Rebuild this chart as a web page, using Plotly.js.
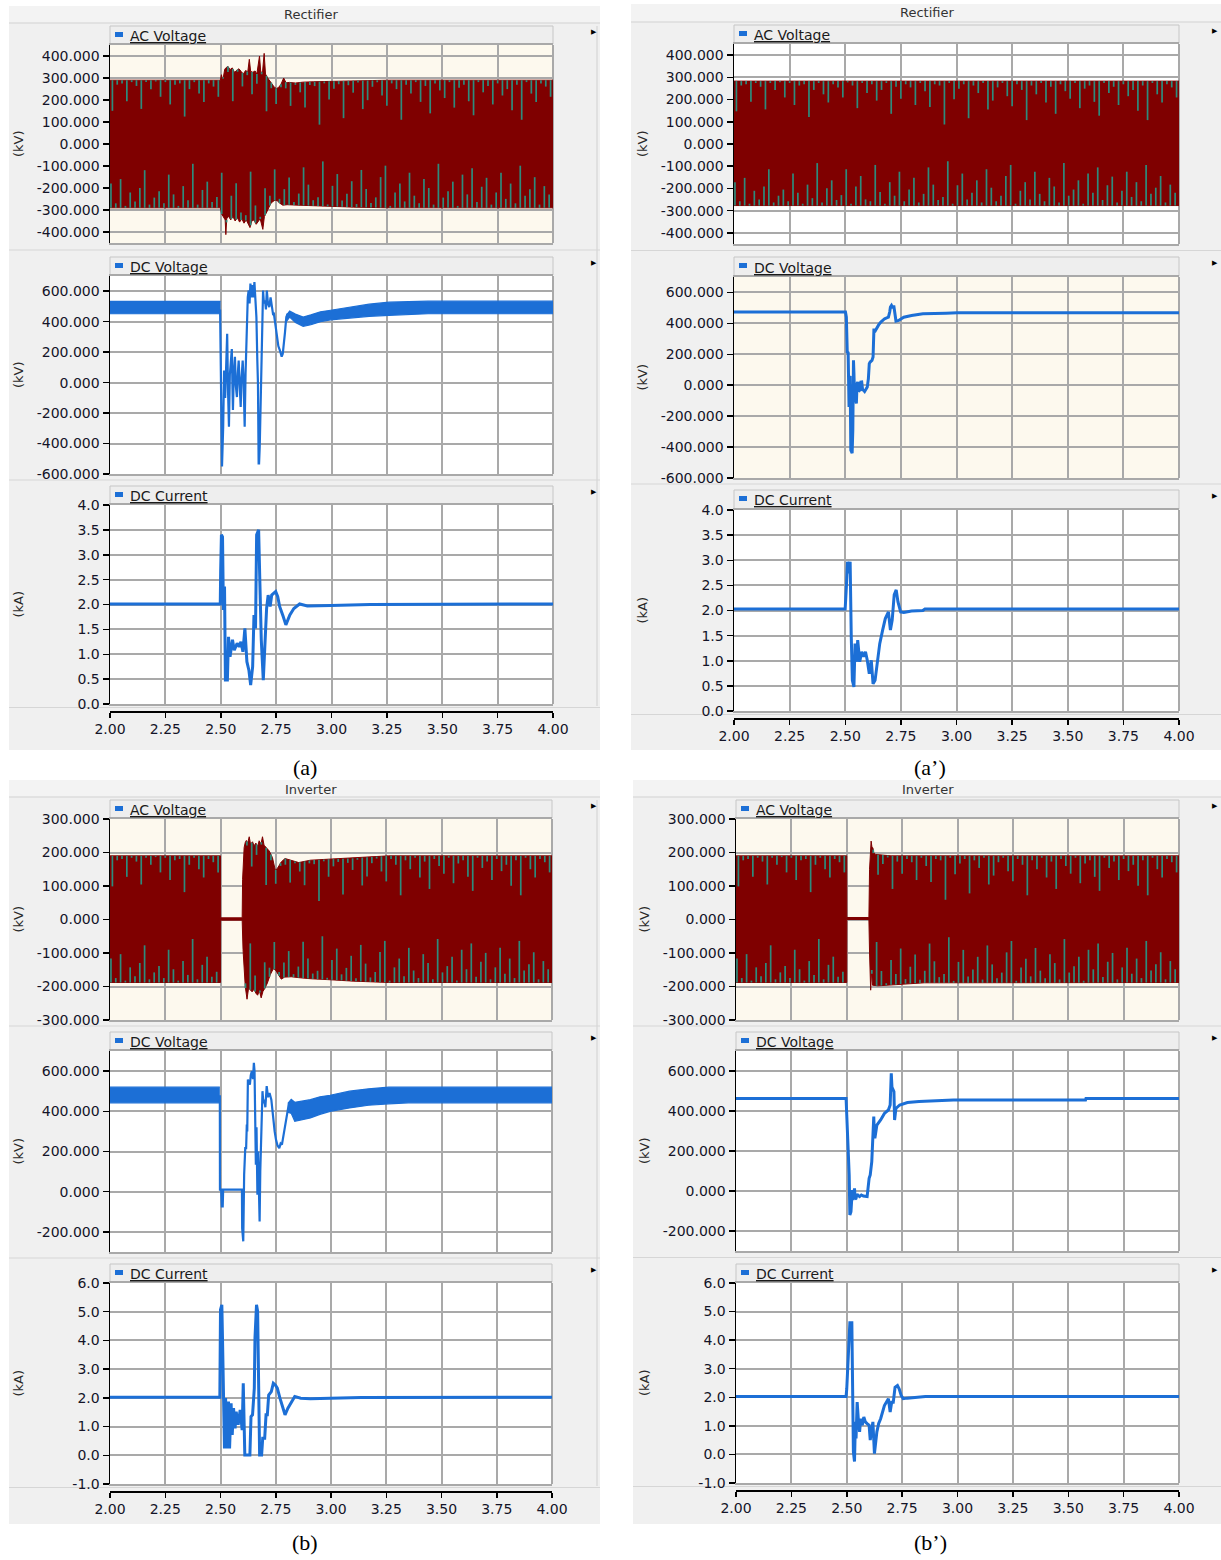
<!DOCTYPE html>
<html>
<head>
<meta charset="utf-8">
<script src="https://cdn.plot.ly/plotly-3.0.1.min.js"></script>
<style>
  html, body { margin: 0; padding: 0; background: #ffffff; }
  #chart { width: 1221px; height: 1560px; }
</style>
</head>
<body>
<div id="chart"></div>
<script>
// ---------------- time axis and tick labels ----------------
const timeTicks = [2.00, 2.25, 2.50, 2.75, 3.00, 3.25, 3.50, 3.75, 4.00];
const acTicksRect = [-400, -300, -200, -100, 0, 100, 200, 300, 400];
const acTicksInv = [-300, -200, -100, 0, 100, 200, 300];
const dcvTicksRect = [-600, -400, -200, 0, 200, 400, 600];
const dcvTicksInv = [-200, 0, 200, 400, 600];
const dciTicksRect = [0, 0.5, 1.0, 1.5, 2.0, 2.5, 3.0, 3.5, 4.0];
const dciTicksInv = [-1, 0, 1, 2, 3, 4, 5, 6];

// ---------------- AC voltage envelopes (kV) ----------------
// (a) rectifier, original control
const acA_upT = [2.0, 2.498, 2.503, 2.507, 2.512, 2.518, 2.525, 2.533, 2.542, 2.552, 2.562, 2.572, 2.582, 2.592, 2.602, 2.612, 2.622, 2.629, 2.635, 2.645, 2.655, 2.663, 2.670, 2.675, 2.681, 2.689, 2.696, 2.702, 2.712, 2.722, 2.732, 2.742, 2.752, 2.762, 2.772, 2.784, 2.795, 2.810, 2.837, 2.870, 2.920, 3.000, 3.100, 3.260, 4.0];
const acA_up = [290, 290, 315, 298, 305, 340, 348, 352, 338, 346, 326, 336, 342, 330, 318, 334, 328, 385, 330, 326, 332, 318, 372, 400, 322, 332, 412, 318, 300, 285, 275, 258, 252, 258, 272, 300, 278, 280, 277, 281, 283, 285, 288, 290, 290];
const acA_loT = [2.0, 2.498, 2.504, 2.512, 2.520, 2.523, 2.527, 2.535, 2.545, 2.555, 2.565, 2.575, 2.585, 2.595, 2.605, 2.615, 2.625, 2.632, 2.640, 2.650, 2.660, 2.670, 2.678, 2.690, 2.697, 2.705, 2.715, 2.725, 2.735, 2.745, 2.755, 2.765, 2.780, 2.800, 2.850, 2.950, 3.100, 3.260, 4.0];
const acA_lo = [-290, -290, -318, -330, -345, -412, -340, -328, -345, -330, -350, -335, -355, -340, -360, -345, -370, -380, -350, -345, -365, -350, -340, -388, -330, -315, -295, -272, -262, -255, -258, -268, -278, -276, -278, -282, -287, -290, -290];
// (a') rectifier, improved control
const acA2_upT = [2.0, 4.0];
const acA2_up = [283, 283];
const acA2_loT = [2.0, 4.0];
const acA2_lo = [-277, -277];
// (b) inverter, original control
const acB_upT = [2.0, 2.500, 2.5005, 2.598, 2.600, 2.607, 2.612, 2.617, 2.623, 2.630, 2.636, 2.645, 2.652, 2.660, 2.668, 2.675, 2.683, 2.690, 2.697, 2.705, 2.720, 2.735, 2.748, 2.757, 2.775, 2.792, 2.819, 2.854, 2.907, 2.996, 3.084, 3.190, 3.260, 4.0];
const acB_up = [190, 190, 5, 5, 120, 215, 230, 236, 228, 247, 225, 232, 220, 228, 218, 235, 225, 247, 222, 215, 205, 185, 147, 152, 172, 182, 177, 170, 177, 180, 182, 187, 190, 190];
const acB_loT = [2.0, 2.500, 2.5005, 2.598, 2.602, 2.607, 2.612, 2.620, 2.627, 2.635, 2.643, 2.652, 2.660, 2.668, 2.676, 2.684, 2.692, 2.700, 2.712, 2.725, 2.739, 2.750, 2.760, 2.775, 2.790, 2.820, 2.860, 2.910, 3.000, 3.100, 3.260, 4.0];
const acB_lo = [-188, -188, -2, -2, -90, -166, -200, -238, -205, -210, -216, -208, -220, -226, -212, -234, -215, -206, -190, -165, -147, -152, -163, -178, -172, -171, -174, -177, -180, -184, -188, -188];
// (b') inverter, improved control
const acB2_upT = [2.0, 2.500, 2.5005, 2.600, 2.603, 2.610, 2.614, 2.618, 2.622, 2.630, 2.650, 2.700, 4.0];
const acB2_up = [190, 190, 6, 6, 150, 234, 215, 214, 200, 194, 193, 190, 190];
const acB2_loT = [2.0, 2.500, 2.5005, 2.600, 2.603, 2.608, 2.612, 2.616, 2.640, 2.680, 2.720, 2.770, 2.850, 4.0];
const acB2_lo = [-188, -188, 0, 0, -100, -211, -150, -196, -198, -196, -194, -191, -189, -188];

// notch depth of the inner phase traces, as a share of the envelope
const notchTop = [0.48, 0.07, 0.05, 0.33, 0.03, 0.09, 0.45, 0.03, 0.14, 0.02, 0.26, 0.03, 0.38, 0.07, 0.05, 0.57, 0.14, 0.03, 0.21, 0.34, 0.05, 0.10, 0.26, 0.02, 0.07, 0.43, 0.03, 0.19, 0.05, 0.31, 0.14, 0.03, 0.52, 0.09, 0.28, 0.05, 0.10, 0.38, 0.03, 0.16, 0.41, 0.05, 0.07, 0.69, 0.03, 0.29, 0.12, 0.05, 0.59, 0.07, 0.19, 0.03, 0.45, 0.31, 0.10, 0.03, 0.24, 0.40, 0.05, 0.14, 0.62, 0.07, 0.21, 0.03, 0.34, 0.09, 0.52, 0.05, 0.16, 0.28, 0.03, 0.43, 0.12, 0.07, 0.33, 0.55, 0.03, 0.19, 0.09, 0.38, 0.05, 0.24, 0.14, 0.47, 0.07, 0.62, 0.03, 0.21, 0.34, 0.05, 0.10, 0.26];
const notchBot = [0.38, 0.07, 0.45, 0.03, 0.24, 0.10, 0.31, 0.59, 0.05, 0.16, 0.26, 0.07, 0.52, 0.21, 0.03, 0.34, 0.12, 0.69, 0.05, 0.28, 0.41, 0.09, 0.17, 0.59, 0.03, 0.31, 0.48, 0.10, 0.07, 0.66, 0.22, 0.03, 0.38, 0.16, 0.55, 0.07, 0.26, 0.45, 0.05, 0.19, 0.62, 0.34, 0.09, 0.14, 0.72, 0.03, 0.33, 0.52, 0.10, 0.21, 0.41, 0.05, 0.59, 0.29, 0.07, 0.16, 0.48, 0.66, 0.03, 0.24, 0.38, 0.10, 0.55, 0.19, 0.07, 0.45, 0.31, 0.05, 0.69, 0.16, 0.26, 0.41, 0.03, 0.52, 0.21, 0.62, 0.09, 0.33, 0.47, 0.05, 0.24, 0.55, 0.14, 0.38, 0.07, 0.66, 0.19, 0.29, 0.48, 0.05, 0.34, 0.21];

// ---------------- DC voltage (kV) ----------------
// ripple band before and after the fault, transient trace in between
const dcvA_preT = [2.0, 2.499];
const dcvA_preHi = [533, 533];
const dcvA_preLo = [452, 452];
const dcvA_postT = [2.796, 2.811, 2.837, 2.872, 2.907, 2.950, 2.996, 3.084, 3.170, 3.260, 3.350, 3.436, 4.0];
const dcvA_postHi = [440, 470, 450, 430, 445, 465, 475, 495, 515, 528, 532, 535, 535];
const dcvA_postLo = [400, 430, 395, 370, 380, 400, 412, 425, 435, 442, 448, 452, 452];
const dcvA_t = [2.497, 2.4987, 2.5057, 2.511, 2.515, 2.520, 2.524, 2.529, 2.533, 2.537, 2.541, 2.545, 2.550, 2.553, 2.555, 2.559, 2.564, 2.568, 2.573, 2.577, 2.581, 2.585, 2.590, 2.594, 2.599, 2.603, 2.608, 2.612, 2.617, 2.622, 2.626, 2.630, 2.634, 2.640, 2.644, 2.647, 2.652, 2.656, 2.661, 2.665, 2.668, 2.671, 2.673, 2.676, 2.679, 2.684, 2.688, 2.691, 2.695, 2.700, 2.704, 2.708, 2.713, 2.719, 2.725, 2.731, 2.736, 2.740, 2.746, 2.752, 2.760, 2.767, 2.775, 2.780, 2.784, 2.790, 2.796, 2.803];
const dcvA_v = [480, 320, -550, -290, 80, -100, 200, 320, -60, -290, 50, 150, 220, -40, -180, 60, 170, -20, -95, 60, 145, 0, -160, 30, 145, 20, -290, 60, 430, 560, 605, 520, 650, 560, 640, 560, 660, 540, 430, 150, -5, -530, -530, -420, -200, 255, 450, 605, 520, 540, 480, 605, 520, 495, 560, 500, 450, 452, 380, 300, 240, 212, 170, 190, 235, 330, 430, 455];
const dcvA2_t = [2.0, 2.501, 2.505, 2.509, 2.513, 2.517, 2.520, 2.522, 2.525, 2.531, 2.534, 2.537, 2.539, 2.541, 2.544, 2.547, 2.550, 2.553, 2.556, 2.560, 2.565, 2.570, 2.574, 2.578, 2.582, 2.587, 2.591, 2.595, 2.599, 2.604, 2.608, 2.612, 2.620, 2.625, 2.629, 2.632, 2.637, 2.643, 2.650, 2.660, 2.670, 2.677, 2.686, 2.694, 2.700, 2.703, 2.708, 2.714, 2.718, 2.722, 2.725, 2.728, 2.740, 2.750, 2.763, 2.798, 2.849, 2.953, 3.004, 4.0];
const dcvA2_v = [473, 473, 440, 215, 210, -140, 54, 60, -420, -440, -290, 161, 80, -32, -75, -110, -118, 10, 21, -40, -32, 20, 21, -30, -32, -40, -32, -20, -11, 43, 140, 150, 160, 183, 366, 345, 360, 376, 390, 408, 425, 430, 435, 440, 475, 505, 516, 500, 516, 470, 451, 415, 419, 430, 440, 451, 462, 466, 468, 468];
const dcvB_preT = [2.0, 2.497];
const dcvB_preHi = [520, 520];
const dcvB_preLo = [442, 442];
const dcvB_postT = [2.805, 2.820, 2.836, 2.871, 2.907, 2.950, 2.996, 3.084, 3.170, 3.261, 3.350, 4.0];
const dcvB_postHi = [440, 460, 445, 450, 458, 472, 480, 500, 512, 520, 520, 520];
const dcvB_postLo = [395, 390, 350, 360, 367, 385, 400, 417, 430, 437, 442, 442];
const dcvB_t = [2.497, 2.4975, 2.503, 2.506, 2.510, 2.512, 2.597, 2.598, 2.603, 2.605, 2.607, 2.612, 2.616, 2.619, 2.621, 2.624, 2.628, 2.633, 2.637, 2.642, 2.647, 2.651, 2.654, 2.656, 2.660, 2.663, 2.667, 2.670, 2.674, 2.677, 2.680, 2.683, 2.690, 2.694, 2.698, 2.703, 2.709, 2.715, 2.722, 2.730, 2.739, 2.745, 2.751, 2.758, 2.766, 2.772, 2.778, 2.785, 2.792, 2.800, 2.810];
const dcvB_v = [480, 10, 10, -73, -73, 10, 10, -181, -247, -60, 85, 217, 217, 334, 300, 558, 540, 533, 580, 600, 560, 641, 600, 466, 134, 320, -15, 200, -32, -148, 100, 251, 500, 440, 458, 420, 525, 470, 491, 458, 350, 300, 259, 230, 217, 240, 234, 280, 317, 390, 442];
const dcvB2_t = [2.0, 2.497, 2.500, 2.503, 2.507, 2.511, 2.514, 2.519, 2.522, 2.525, 2.528, 2.532, 2.535, 2.538, 2.542, 2.546, 2.549, 2.558, 2.566, 2.575, 2.584, 2.592, 2.601, 2.606, 2.613, 2.618, 2.622, 2.624, 2.627, 2.636, 2.653, 2.670, 2.688, 2.696, 2.701, 2.704, 2.708, 2.713, 2.716, 2.719, 2.722, 2.739, 2.774, 2.826, 2.895, 2.982, 3.578, 3.580, 4.0];
const dcvB2_v = [463, 463, 380, 300, 247, 80, -120, -103, -50, 5, -45, 10, 13, -40, -37, -15, -20, -28, -20, -25, -28, -28, 63, 80, 147, 263, 372, 300, 263, 330, 355, 388, 405, 430, 588, 520, 505, 497, 355, 410, 413, 430, 442, 447, 450, 455, 455, 462, 462];

// ---------------- DC current (kA) ----------------
const dciA_t = [2.0, 2.4978, 2.4996, 2.503, 2.508, 2.512, 2.517, 2.521, 2.530, 2.535, 2.542, 2.553, 2.561, 2.574, 2.583, 2.591, 2.600, 2.609, 2.618, 2.627, 2.635, 2.644, 2.650, 2.657, 2.662, 2.671, 2.676, 2.683, 2.692, 2.700, 2.707, 2.714, 2.723, 2.730, 2.748, 2.757, 2.766, 2.782, 2.794, 2.812, 2.830, 2.856, 2.891, 2.997, 3.174, 4.0];
const dciA_v = [2.01, 2.01, 2.66, 3.40, 3.36, 1.89, 2.36, 0.48, 0.48, 1.35, 0.95, 1.29, 1.08, 1.22, 1.15, 1.25, 1.05, 1.52, 0.85, 0.68, 0.38, 0.75, 1.79, 1.52, 3.40, 3.50, 2.56, 1.29, 0.48, 1.15, 1.92, 2.19, 1.96, 2.19, 2.26, 2.16, 1.96, 1.76, 1.59, 1.79, 1.92, 2.01, 1.97, 1.98, 2.00, 2.01];
const dciA2_t = [2.0, 2.4996, 2.505, 2.510, 2.515, 2.522, 2.527, 2.532, 2.539, 2.544, 2.551, 2.556, 2.565, 2.574, 2.582, 2.591, 2.599, 2.608, 2.617, 2.625, 2.634, 2.643, 2.655, 2.668, 2.680, 2.694, 2.703, 2.711, 2.720, 2.729, 2.737, 2.749, 2.763, 2.798, 2.849, 2.858, 4.0];
const dciA2_v = [2.03, 2.03, 2.47, 2.97, 2.74, 2.97, 1.48, 0.61, 0.48, 1.34, 0.98, 1.41, 0.98, 1.18, 1.08, 1.18, 1.01, 0.74, 1.01, 0.54, 0.61, 0.98, 1.34, 1.61, 1.84, 1.97, 1.61, 1.81, 2.31, 2.41, 2.17, 1.97, 1.96, 1.99, 2.00, 2.03, 2.03];
const dciB_t = [2.0, 2.497, 2.500, 2.506, 2.509, 2.513, 2.518, 2.523, 2.529, 2.536, 2.541, 2.548, 2.553, 2.559, 2.566, 2.571, 2.580, 2.589, 2.598, 2.603, 2.610, 2.633, 2.638, 2.645, 2.653, 2.656, 2.663, 2.668, 2.674, 2.677, 2.686, 2.691, 2.700, 2.706, 2.712, 2.718, 2.730, 2.739, 2.748, 2.757, 2.769, 2.784, 2.792, 2.805, 2.819, 2.836, 2.863, 2.907, 2.996, 3.137, 4.0];
const dciB_v = [2.02, 2.02, 5.07, 5.24, 4.08, 1.70, 0.24, 1.99, 0.24, 1.87, 0.24, 1.81, 0.71, 1.64, 0.94, 1.52, 1.06, 1.58, 0.88, 2.51, 0.01, 0.01, 1.35, 1.41, 2.34, 4.08, 5.24, 5.01, 2.57, 0.01, 0.01, 0.59, 0.59, 1.41, 1.41, 2.10, 2.22, 2.51, 2.45, 2.34, 1.99, 1.58, 1.41, 1.64, 1.81, 2.05, 1.99, 1.97, 1.99, 2.01, 2.02];
const dciB2_t = [2.0, 2.497, 2.500, 2.506, 2.511, 2.514, 2.523, 2.526, 2.530, 2.535, 2.539, 2.542, 2.547, 2.552, 2.558, 2.563, 2.570, 2.577, 2.584, 2.592, 2.601, 2.606, 2.613, 2.618, 2.625, 2.630, 2.636, 2.644, 2.653, 2.670, 2.688, 2.696, 2.703, 2.710, 2.718, 2.729, 2.737, 2.746, 2.755, 2.773, 2.843, 2.855, 4.0];
const dciB2_v = [2.03, 2.03, 2.29, 3.22, 3.80, 4.61, 4.61, 2.64, 0.09, -0.25, 1.14, 0.56, 1.83, 1.25, 0.79, 1.25, 1.02, 1.31, 1.14, 1.08, 1.02, 0.50, 0.96, 1.14, 0.03, 0.44, 0.79, 1.08, 1.25, 1.71, 1.95, 1.48, 1.83, 1.83, 2.35, 2.41, 2.29, 2.06, 1.95, 1.97, 2.00, 2.03, 2.03];

// ---------------- page geometry helpers ----------------
const W = 1221, H = 1560;
const px = x => x / W;
const py = y => 1 - y / H;

const RED = '#7f0000';
const TEAL = '#2d8b7c';
const BLUE = '#1c6fd6';
const CREAM = '#fdf9ee';
const GRID = '#a9a9a9';
const FRAME = '#f0f0f0';
const FONT = 'DejaVu Sans, Verdana, sans-serif';
const TICKFONT = { family: FONT, size: 14, color: '#141428' };

// tick labels with a plain hyphen for negatives
const fmtTicks = (vals, digits) => vals.map(v => v.toFixed(digits));

const panels = [
  { title: 'Rectifier', caption: '(a)', frame: [9, 6, 600, 750], titleBottom: 23, titleY: 15,
    plotX: [110, 553], rows: [[26, 45, 243], [257, 276, 474], [486, 505, 704]], axisY: 711,
    capX: 305, capY: 767, ylabelX: 18, bg: [CREAM, '#ffffff', '#ffffff'], inverter: false,
    ac: [acA_upT, acA_up, acA_loT, acA_lo],
    bands: [[dcvA_preT, dcvA_preHi, dcvA_preLo], [dcvA_postT, dcvA_postHi, dcvA_postLo]],
    dcv: [dcvA_t, dcvA_v], dcvWidth: 2.2, dci: [dciA_t, dciA_v] },
  { title: 'Rectifier', caption: '(a\u2019)', frame: [631, 4, 1221, 750], titleBottom: 22, titleY: 13,
    plotX: [734, 1179], rows: [[25, 44, 244], [257, 277, 478], [490, 510, 711]], axisY: 718,
    capX: 930, capY: 767, ylabelX: 642, bg: ['#ffffff', CREAM, '#ffffff'], inverter: false,
    ac: [acA2_upT, acA2_up, acA2_loT, acA2_lo], bands: [],
    dcv: [dcvA2_t, dcvA2_v], dcvWidth: 3, dci: [dciA2_t, dciA2_v] },
  { title: 'Inverter', caption: '(b)', frame: [9, 780, 600, 1524], titleBottom: 797, titleY: 789,
    plotX: [110, 552], rows: [[800, 819, 1020], [1032, 1051, 1252], [1264, 1283, 1484]], axisY: 1491,
    capX: 305, capY: 1542, ylabelX: 18, bg: [CREAM, '#ffffff', '#ffffff'], inverter: true,
    ac: [acB_upT, acB_up, acB_loT, acB_lo],
    bands: [[dcvB_preT, dcvB_preHi, dcvB_preLo], [dcvB_postT, dcvB_postHi, dcvB_postLo]],
    dcv: [dcvB_t, dcvB_v], dcvWidth: 2.2, dci: [dciB_t, dciB_v] },
  { title: 'Inverter', caption: '(b\u2019)', frame: [633, 780, 1221, 1524], titleBottom: 797, titleY: 789,
    plotX: [736, 1179], rows: [[800, 819, 1020], [1032, 1051, 1251], [1264, 1283, 1483]], axisY: 1490,
    capX: 930, capY: 1542, ylabelX: 644, bg: [CREAM, '#ffffff', '#ffffff'], inverter: true,
    ac: [acB2_upT, acB2_up, acB2_loT, acB2_lo], bands: [],
    dcv: [dcvB2_t, dcvB2_v], dcvWidth: 3, dci: [dciB2_t, dciB2_v] }
];

// linear interpolation along an envelope
function interp(ts, vs, t) {
  if (t <= ts[0]) return vs[0];
  for (let i = 1; i < ts.length; i++) {
    if (t <= ts[i]) {
      const span = ts[i] - ts[i - 1];
      const f = span > 0 ? (t - ts[i - 1]) / span : 1;
      return vs[i - 1] + f * (vs[i] - vs[i - 1]);
    }
  }
  return vs[vs.length - 1];
}

// notches of the other phases, hanging from the envelope toward zero
function notchTrace(depths, envT, envV, offset, xa, ya) {
  const x = [], y = [];
  const n = depths.length;
  depths.forEach((d, i) => {
    const t = 2 + (i + offset) * 2 / n;
    const e = interp(envT, envV, t);
    if (Math.abs(e) < 40) return;
    x.push(t, t, null);
    y.push(e, e * (1 - d), null);
  });
  return { type: 'scatter', mode: 'lines', x, y, xaxis: xa, yaxis: ya,
           line: { color: TEAL, width: 1.7 }, hoverinfo: 'skip', showlegend: false };
}

const traces = [];
const layout = {
  width: W, height: H,
  margin: { l: 0, r: 0, t: 0, b: 0 },
  paper_bgcolor: '#ffffff',
  plot_bgcolor: 'rgba(0,0,0,0)',
  showlegend: false,
  font: { family: FONT, size: 13, color: '#1f1f33' },
  shapes: [],
  annotations: []
};

function rect(x0, y0, x1, y1, fill, lineColor, lw) {
  layout.shapes.push({ type: 'rect', xref: 'paper', yref: 'paper', layer: 'below',
    x0: px(x0), x1: px(x1), y0: py(y1), y1: py(y0), fillcolor: fill,
    line: { color: lineColor || fill, width: lw || 0 } });
}
function hline(x0, x1, y, color, w) {
  layout.shapes.push({ type: 'line', xref: 'paper', yref: 'paper', layer: 'below',
    x0: px(x0), x1: px(x1), y0: py(y), y1: py(y), line: { color, width: w } });
}
function vline(x, y0, y1, color, w, layer) {
  layout.shapes.push({ type: 'line', xref: 'paper', yref: 'paper', layer: layer || 'below',
    x0: px(x), x1: px(x), y0: py(y0), y1: py(y1), line: { color, width: w } });
}
function text(x, y, s, opts) {
  layout.annotations.push(Object.assign({ xref: 'paper', yref: 'paper', x: px(x), y: py(y),
    text: s, showarrow: false, xanchor: 'center', yanchor: 'middle',
    font: { family: FONT, size: 13, color: '#222222' } }, opts || {}));
}

const rowNames = ['AC Voltage', 'DC Voltage', 'DC Current'];

panels.forEach((p, pi) => {
  const [fx0, fy0, fx1, fy1] = p.frame;
  const [X0, X1] = p.plotX;

  // panel frame and title bar
  rect(fx0, fy0, fx1, fy1, FRAME);
  rect(fx0, fy0, fx1, p.titleBottom, '#f3f3f3');
  hline(fx0, fx1, p.titleBottom, '#d2d2d2', 1.2);
  text((fx0 + fx1 + (fx1 > 1200 ? -10 : 0)) / 2 + 6, p.titleY, p.title,
       { font: { family: FONT, size: 13, color: '#333333' } });

  // pane separators
  for (let r = 0; r < 3; r++) {
    const below = r < 2 ? (p.rows[r][2] + p.rows[r + 1][0]) / 2 : (p.rows[r][2] + p.axisY) / 2;
    hline(fx0, fx1, below, '#d6d6d6', 1.2);
  }
  if (fx1 < 1200) vline(fx1 - 3, p.titleBottom + 3, p.axisY - 5, '#d6d6d6', 1.2);

  p.rows.forEach((row, r) => {
    const [tabTop, top, bottom] = row;
    const k = pi * 3 + r + 1;
    const xa = 'x' + k, ya = 'y' + k;

    // plot area background, legend tab, right border
    rect(X0, top, X1, bottom, p.bg[r]);
    rect(X0, tabTop, X1, top - 1, '#eeeeee', '#c6c6c6', 1);
    rect(X0 + 5, tabTop + 6, X0 + 13, tabTop + 11, BLUE);
    text(X0 + 18, (tabTop + top) / 2 + 0.5, '<u>' + rowNames[r] + '</u>',
         { xanchor: 'left', font: { family: FONT, size: 14, color: '#1a1a1a' } });
    text(fx1 - 6, tabTop + 6, '\u25B6', { font: { family: FONT, size: 7, color: '#000000' } });
    vline(X1, top, bottom, GRID, 2);

    // unit label
    text(p.ylabelX, (top + bottom) / 2, r === 2 ? '(kA)' : '(kV)',
         { textangle: -90, font: { family: FONT, size: 13, color: '#2a2a2a' } });

    let yRange, yTicks, digits;
    if (r === 0) { yRange = p.inverter ? [-300, 300] : [-450, 450]; yTicks = p.inverter ? acTicksInv : acTicksRect; digits = 3; }
    if (r === 1) { yRange = p.inverter ? [-300, 700] : [-600, 700]; yTicks = p.inverter ? dcvTicksInv : dcvTicksRect; digits = 3; }
    if (r === 2) { yRange = p.inverter ? [-1, 6] : [0, 4]; yTicks = p.inverter ? dciTicksInv : dciTicksRect; digits = 1; }

    const sfx = k === 1 ? '' : String(k);
    layout['xaxis' + sfx] = {
      domain: [px(X0), px(X1)], anchor: ya, range: [2, 4],
      tickvals: timeTicks, showticklabels: false, ticks: '',
      showgrid: true, gridcolor: GRID, gridwidth: 2, zeroline: false,
      showline: true, linecolor: GRID, linewidth: 2, mirror: true, fixedrange: true
    };
    layout['yaxis' + sfx] = {
      domain: [py(bottom), py(top)], anchor: xa, range: yRange,
      tickvals: yTicks, ticktext: fmtTicks(yTicks, digits),
      ticks: 'outside', ticklen: 6, tickwidth: 1.5,
      tickcolor: '#000000', tickfont: TICKFONT,
      showgrid: true, gridcolor: GRID, gridwidth: 2, zeroline: false,
      showline: true, linecolor: '#000000', linewidth: 1.5, mirror: false, fixedrange: true
    };

    if (r === 0) {
      const [upT, up, loT, lo] = p.ac;
      traces.push({ type: 'scatter', mode: 'lines', x: loT, y: lo, xaxis: xa, yaxis: ya,
        line: { color: RED, width: 1 }, hoverinfo: 'skip' });
      traces.push({ type: 'scatter', mode: 'lines', x: upT, y: up, xaxis: xa, yaxis: ya,
        fill: 'tonexty', fillcolor: RED, line: { color: RED, width: 1 }, hoverinfo: 'skip' });
      traces.push(notchTrace(notchTop, upT, up, 0.5, xa, ya));
      traces.push(notchTrace(notchBot, loT, lo, 0.2, xa, ya));
    } else if (r === 1) {
      p.bands.forEach(([bt, hi, lo]) => {
        traces.push({ type: 'scatter', mode: 'lines', x: bt, y: lo, xaxis: xa, yaxis: ya,
          line: { color: BLUE, width: 1.2 }, hoverinfo: 'skip' });
        traces.push({ type: 'scatter', mode: 'lines', x: bt, y: hi, xaxis: xa, yaxis: ya,
          fill: 'tonexty', fillcolor: BLUE, line: { color: BLUE, width: 1.2 }, hoverinfo: 'skip' });
      });
      traces.push({ type: 'scatter', mode: 'lines', x: p.dcv[0], y: p.dcv[1], xaxis: xa, yaxis: ya,
        line: { color: BLUE, width: p.dcvWidth }, hoverinfo: 'skip' });
    } else {
      traces.push({ type: 'scatter', mode: 'lines', x: p.dci[0], y: p.dci[1], xaxis: xa, yaxis: ya,
        line: { color: BLUE, width: 3 }, hoverinfo: 'skip' });

      // time axis drawn just below the current pane
      const fk = 13 + pi;
      layout['xaxis' + fk] = {
        overlaying: xa, anchor: 'free', position: py(p.axisY), range: [2, 4],
        tickvals: timeTicks, ticktext: fmtTicks(timeTicks, 2),
        ticks: 'outside', ticklen: 5, tickwidth: 1.5,
        tickcolor: '#000000', tickfont: TICKFONT, showgrid: false, zeroline: false,
        showline: true, linecolor: '#000000', linewidth: 1.5, fixedrange: true
      };
      traces.push({ type: 'scatter', mode: 'lines', x: [2, 4], y: [null, null],
        xaxis: 'x' + fk, yaxis: ya, hoverinfo: 'skip', line: { width: 0 } });
    }
  });

  // figure caption
  text(p.capX, p.capY, p.caption,
       { font: { family: 'Liberation Serif, Times New Roman, serif', size: 22, color: '#000000' } });
});

traces.forEach(t => { t.showlegend = false; });

Plotly.newPlot('chart', traces, layout, { staticPlot: true, displayModeBar: false });
</script>
</body>
</html>
